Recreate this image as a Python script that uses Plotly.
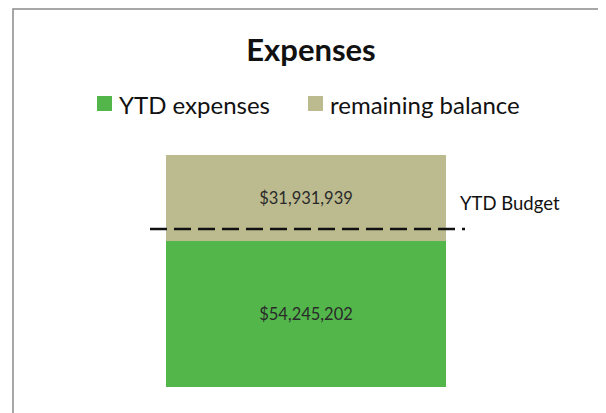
import plotly.graph_objects as go

categories = ["Expenses"]
ytd_expenses = [54245202]
remaining_balance = [31931939]
ytd_budget = 58700000
series_names = ["YTD expenses", "remaining balance"]
colors = ["#52b64a", "#bcbb8f"]

total = ytd_expenses[0] + remaining_balance[0]
font = "Lato, Open Sans, sans-serif"

# page has an 8px body margin, so work in page pixels and shift
OFF = 8
W, H = 606 - OFF, 413 - OFF
# plot area in page pixels: x 13..603, y 155..387 ; bar spans x 166..446
L, R, T, B = 13, 603, 155, 387
BAR_L, BAR_R = 166, 446
unit = BAR_R - BAR_L
x_lo = -0.5 - (BAR_L - L) / unit
x_hi = x_lo + (R - L) / unit


def px_x(p):
    return (p - L) / (R - L)


def px_y(p):
    return (B - p) / (B - T)


fig = go.Figure()
for vals, name, col in zip([ytd_expenses, remaining_balance], series_names, colors):
    fig.add_trace(go.Bar(x=categories, y=vals, name=name, marker=dict(color=col, line=dict(width=0)),
                         width=1, texttemplate="$%{y:,}", textposition="inside", insidetextanchor="middle",
                         textfont=dict(size=16.5, color="#2a2a2a", family=font), hoverinfo="y",
                         showlegend=False))

shapes = [
    dict(type="line", xref="paper", yref="y", x0=px_x(150), x1=px_x(465), y0=ytd_budget, y1=ytd_budget,
         line=dict(color="#111111", width=2.5, dash="17px,7px")),
    dict(type="path", xref="paper", yref="paper",
         path=f"M {px_x(13)},{px_y(413)} L {px_x(13)},{px_y(9)} L {px_x(603)},{px_y(9)}",
         line=dict(color="#8a8a8a", width=1.5)),
    dict(type="line", xref="paper", yref="paper", x0=px_x(603), x1=px_x(603), y0=px_y(9), y1=px_y(413),
         line=dict(color="#e2e2e2", width=1)),
]

annotations = [dict(xref="paper", yref="paper", x=px_x(458), y=px_y(203), text="YTD Budget",
                    showarrow=False, xanchor="left", yanchor="middle",
                    font=dict(size=18.5, family=font, color="#111111"))]

# legend keys drawn by hand so spacing matches the original
legend_x = [97, 308]
for lx, name, col in zip(legend_x, series_names, colors):
    shapes.append(dict(type="rect", xref="paper", yref="paper", x0=px_x(lx), x1=px_x(lx + 15),
                       y0=px_y(111), y1=px_y(96), fillcolor=col, line=dict(width=0)))
    annotations.append(dict(xref="paper", yref="paper", x=px_x(lx + 20), y=px_y(104), text=name,
                            showarrow=False, xanchor="left", yanchor="middle",
                            font=dict(size=24, family=font, color="#111111")))

fig.update_layout(
    width=W, height=H, barmode="stack", bargap=0,
    margin=dict(l=L - OFF, r=W - (R - OFF), t=T - OFF, b=H - (B - OFF), autoexpand=False),
    paper_bgcolor="white", plot_bgcolor="white",
    font=dict(family=font, color="#111111"),
    title=dict(text="<b>Expenses</b>", x=(311 - OFF) / W, xanchor="center", y=1 - (50 - OFF) / H,
               yanchor="middle", font=dict(size=31, family=font, color="#111111")),
    showlegend=False,
    xaxis=dict(visible=False, range=[x_lo, x_hi]),
    yaxis=dict(visible=False, range=[0, total]),
    shapes=shapes,
    annotations=annotations,
    uniformtext=dict(mode=False),
)

fig.write_html("out.html")
